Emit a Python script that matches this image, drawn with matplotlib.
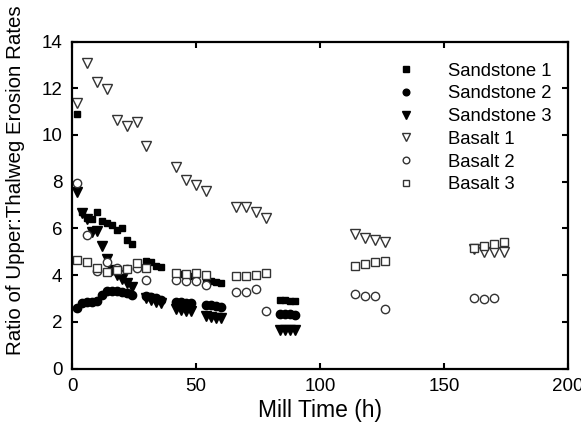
import matplotlib
matplotlib.use("Agg")
import matplotlib.pyplot as plt

plt.rcParams["font.family"] = ["Liberation Sans", "DejaVu Sans"]

# Sandstone runs (2 h steps)
t_sand = [2, 4, 6, 8, 10, 12, 14, 16, 18, 20, 22, 24,
          30, 32, 34, 36, 42, 44, 46, 48, 54, 56, 58, 60, 84, 86, 88, 90]
sandstone_1 = [10.9, 6.7, 6.45, 6.38, 6.7, 6.3, 6.22, 6.15, 5.95, 6.0, 5.5, 5.33,
               4.6, 4.55, 4.4, 4.35, 4.1, 4.05, 4.0, 3.95, 3.8, 3.75, 3.7, 3.65,
               2.95, 2.93, 2.9, 2.9]
sandstone_2 = [2.6, 2.8, 2.85, 2.86, 2.9, 3.15, 3.3, 3.32, 3.3, 3.28, 3.25, 3.15,
               3.1, 3.05, 3.0, 2.95, 2.85, 2.85, 2.8, 2.8, 2.7, 2.7, 2.68, 2.65,
               2.35, 2.35, 2.33, 2.3]
sandstone_3 = [7.57, 6.65, 6.4, 5.85, 5.9, 5.25, 4.7, 4.2, 4.0, 3.82, 3.65, 3.48,
               3.0, 2.95, 2.85, 2.8, 2.55, 2.5, 2.45, 2.45, 2.25, 2.2, 2.18, 2.15,
               1.65, 1.65, 1.63, 1.63]

# Basalt runs (4 h steps)
t_bas = [2, 6, 10, 14, 18, 22, 26, 30, 42, 46, 50, 54,
         66, 70, 74, 78, 114, 118, 122, 126, 162, 166, 170, 174]
basalt_1 = [11.35, 13.07, 12.28, 11.96, 10.64, 10.39, 10.57, 9.53, 8.62, 8.07, 7.87, 7.62,
            6.93, 6.9, 6.72, 6.43, 5.75, 5.6, 5.5, 5.4, 5.1, 5.0, 4.98, 4.98]
basalt_3 = [4.65, 4.57, 4.3, 4.15, 4.2, 4.25, 4.5, 4.3, 4.1, 4.05, 4.07, 4.0,
            3.96, 3.96, 4.0, 4.07, 4.39, 4.47, 4.55, 4.62, 5.17, 5.25, 5.33, 5.4]
t_bas2 = t_bas[:-1]
basalt_2 = [7.96, 5.72, 4.18, 4.57, 4.3, 4.25, 4.3, 3.79, 3.8, 3.75, 3.76, 3.57,
            3.28, 3.29, 3.39, 2.46, 3.19, 3.12, 3.1, 2.54, 3.0, 2.99, 3.0]

fig = plt.figure(figsize=(5.81, 4.28), dpi=100)
ax = fig.add_axes([0.124, 0.139, 0.854, 0.764])

ax.plot(t_sand, sandstone_1, "s", color="black", ms=5, mec="black", label="Sandstone 1")
ax.plot(t_sand, sandstone_2, "o", color="black", ms=6, mec="black", label="Sandstone 2")
ax.plot(t_sand, sandstone_3, "v", color="black", ms=6.5, mec="black", label="Sandstone 3")
ax.plot(t_bas, basalt_1, "v", mfc="white", mec="#333333", mew=1, ms=7, label="Basalt 1")
ax.plot(t_bas2, basalt_2, "o", mfc="white", mec="#333333", mew=1, ms=6, label="Basalt 2")
ax.plot(t_bas, basalt_3, "s", mfc="white", mec="#333333", mew=1, ms=5.5, label="Basalt 3")

ax.set_xlim(0, 200)
ax.set_ylim(0, 14)
ax.set_xticks([0, 50, 100, 150, 200])
ax.set_yticks(range(0, 15, 2))
ax.tick_params(direction="in", top=True, right=True, length=4, width=1.5,
               labelsize=13.5, pad=7)
for s in ax.spines.values():
    s.set_linewidth(1.6)

ax.set_xlabel("Mill Time (h)", fontsize=16.5, labelpad=3)
ax.set_ylabel("Ratio of Upper:Thalweg Erosion Rates", fontsize=14.8)
ax.yaxis.set_label_coords(-0.094, 0.575)

ax.legend(loc="upper left", bbox_to_anchor=(0.655, 0.935), frameon=False,
          fontsize=13.3, markerscale=0.8, handletextpad=1.75, labelspacing=0.31,
          handlelength=1.0, borderpad=0, borderaxespad=0)

plt.savefig("out.png", dpi=100)
plt.close()
